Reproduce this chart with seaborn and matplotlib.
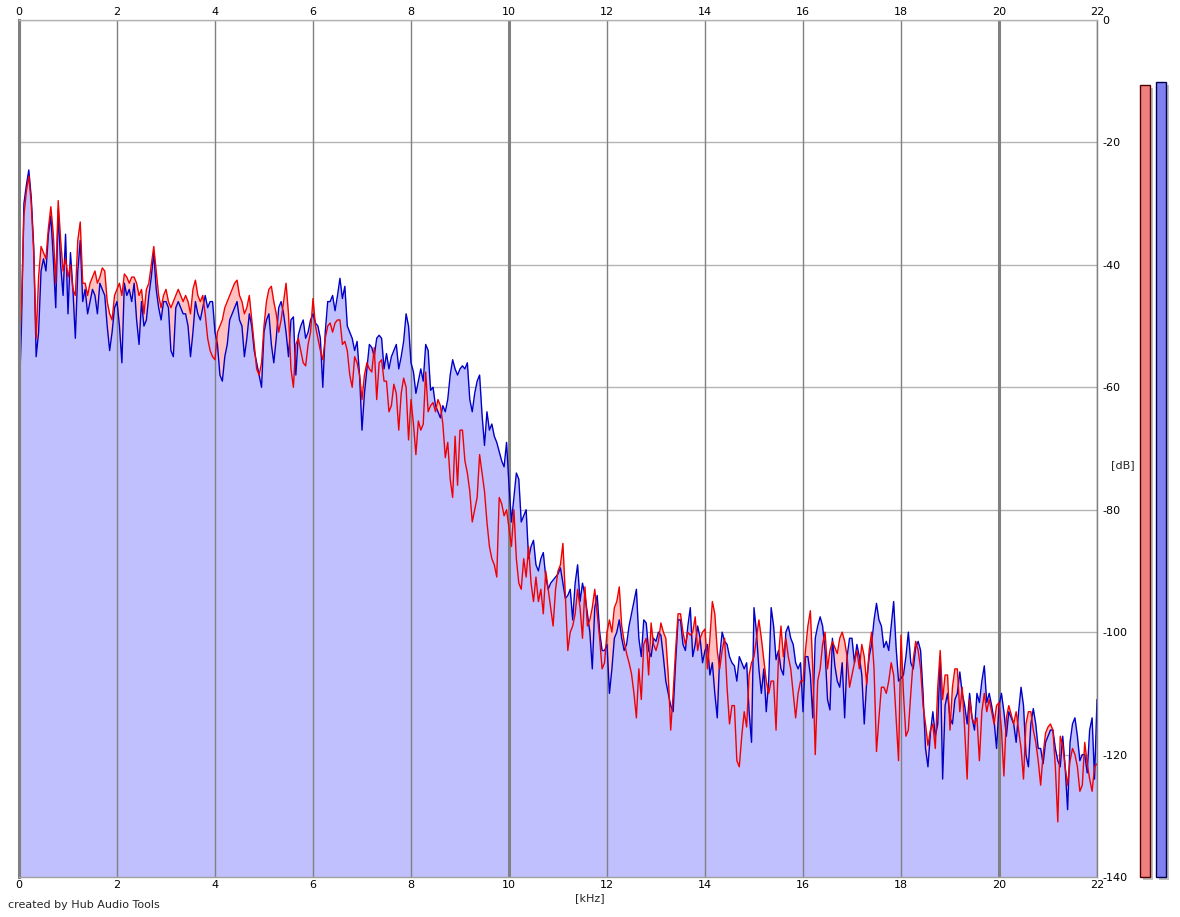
import numpy as np
import pandas as pd
import matplotlib
matplotlib.use("Agg")
import matplotlib.pyplot as plt
import seaborn as sns

# ---------------- data ----------------
freq_step_khz = 0.05

# right channel (blue), dB, 0.00 .. 22.00 kHz in 0.05 kHz steps
blue_0_55 = [
    -63, -50, -30, -27, -24.5, -29, -37, -55, -51, -41,
    -39, -41, -35, -32, -39, -47, -31, -40, -45, -35,
    -48, -38, -44, -52, -41, -36, -46, -44, -48, -46,
    -44, -45, -48, -43, -44, -45, -50, -54, -51, -47,
    -46, -50, -56, -43, -45, -44, -46, -43, -49, -53,
    -46, -50, -49, -45, -42, -38, -44, -47, -49, -46,
    -46, -47, -54, -55, -47, -46, -47, -48, -48, -50,
    -55, -51, -46, -48, -49, -47, -45, -47, -46, -46,
    -51, -53, -58, -59, -55, -53, -49, -48, -47, -46,
    -49, -50, -55, -52, -48, -50, -54, -56, -58, -60,
    -51, -49, -48, -53, -56, -52, -47, -46, -48, -51,
    -55,
]
blue_55_110 = [
    -49, -48.5, -58, -51.5, -50, -49, -52, -51, -49, -48,
    -49.5, -50, -52, -60, -51, -46, -46, -45, -47.5, -45,
    -42.2, -45.5, -43.5, -50, -51, -52, -54, -52.5, -58, -67,
    -61, -57, -53, -53.5, -55, -52, -51.5, -52, -57, -54.5,
    -57, -55, -54, -53, -57, -55, -52.5, -48, -50, -56,
    -57.5, -61, -59, -57, -59, -53, -54, -60.5, -60, -63,
    -64, -65, -63, -64, -62, -58, -55.5, -57, -58, -57,
    -56.5, -57, -56, -62, -64, -61, -59, -58, -64.5, -69.5,
    -64, -67, -66, -68, -69, -70.5, -72, -73, -69, -76,
    -82, -78, -74, -75, -82, -81, -80, -88, -86, -85,
    -89, -90, -88, -87, -91, -93, -92, -91.5, -91, -90.5,
]
blue_110_165 = [
    -89.5, -92, -94.5, -94, -93, -98, -92, -89, -95, -92,
    -94, -97, -100, -106, -96, -94, -100, -103, -103, -102,
    -110, -106, -101, -100, -98, -101, -103, -102, -99, -97,
    -95, -93, -101, -104, -98, -98.5, -103, -104, -101, -101.5,
    -100, -100.5, -104, -108, -110, -112, -113, -105, -98, -98,
    -102, -103, -99, -96, -104, -102, -99, -101, -105, -103,
    -102, -107, -105, -110, -114, -104, -100, -101.5, -102, -104,
    -105, -105.5, -108, -104, -105, -106, -105, -113, -118, -96,
    -100, -106, -110, -106, -113, -108, -96, -99, -104.5, -103,
    -106, -107, -100, -99, -101, -102, -105, -106, -105, -113,
    -104, -104, -107, -114, -101, -99, -97.5, -99, -103, -111,
]
blue_165_220 = [
    -112.7, -101, -105.5, -108, -109, -105, -114, -104, -101, -101,
    -105, -102, -104, -107, -115, -108, -104, -102, -98, -95.3,
    -98, -99, -102.5, -101.5, -103, -99, -95, -102.5, -108, -107.5,
    -107, -104, -100, -105, -106, -102.5, -101.5, -103, -110, -119,
    -122, -116.5, -113, -117, -115, -104, -124, -112, -110, -114,
    -115, -111, -110, -106.5, -110, -112, -115, -110, -114, -116,
    -110, -111.5, -108, -105.5, -111.5, -110, -112, -114.5, -119, -112,
    -110, -113, -117, -113, -114, -115, -118, -113, -109, -112,
    -120, -122, -115, -112.5, -115, -119, -119, -121.5, -118, -117,
    -116, -116, -119, -121, -122, -117, -122, -129, -118, -115,
    -114, -117, -121, -120, -120, -123, -116, -114, -124, -111,
]

# left channel (red), dB
red_0_55 = [
    -55, -47, -32, -28, -25.5, -30, -38, -52, -42, -37,
    -38, -39, -34, -30.5, -35, -43, -29.5, -36, -41, -39,
    -42, -40, -44, -45, -36, -33, -43, -43, -45, -43,
    -42, -41, -43, -42, -40.5, -41, -46, -48, -49, -45,
    -44, -43, -45, -41.5, -42, -43, -42, -42, -43, -45,
    -44, -48, -44, -43, -40, -37, -41, -45, -47, -45,
    -44, -46, -47, -46, -45, -44, -45, -46, -45, -46,
    -48, -44, -42.5, -45, -46, -45, -48, -52, -54, -55,
    -55.5, -51, -50, -49, -47, -46, -45, -44, -43, -42.5,
    -45, -46, -48, -47, -45, -49, -53, -57, -58, -56,
    -50, -46, -44, -43.5, -46, -48, -51, -49, -46, -43,
    -48,
]
red_55_110 = [
    -57, -60, -53, -52, -54, -56, -56.5, -53, -51, -45.5,
    -50, -52, -54, -55.5, -52, -50, -49.5, -51, -49.5, -49,
    -49, -53, -52.5, -54, -58, -60, -55, -56, -58, -62,
    -58, -56, -57, -57.5, -53.5, -62, -56, -55.5, -59, -59,
    -64, -63, -59.5, -61, -67, -61, -58.5, -60, -68.6, -62,
    -66, -71, -65.5, -67, -66, -57.5, -64, -63, -62.5, -64,
    -62, -63, -66, -71.5, -69, -75, -78, -68, -76, -67,
    -67, -72, -74, -77, -82, -80, -78, -71, -74, -77,
    -82, -86, -88, -89, -91, -78, -79, -81, -80, -83,
    -86, -80, -88, -92, -93, -88, -91, -86, -92, -95,
    -91, -95, -93, -97, -90, -93, -96, -99, -93, -90,
]
red_110_165 = [
    -89, -85.5, -94, -103, -100, -99, -97, -93, -96, -101,
    -92.6, -99, -98, -96, -93, -97, -101, -106, -105, -100,
    -98, -100, -96, -95, -92.6, -99, -101.5, -103.5, -105, -106.8,
    -110, -114, -106, -111, -102, -101, -107, -98.5, -102, -103,
    -101.5, -98.5, -100, -101, -107, -116, -110, -103, -97, -97,
    -100, -102, -100, -100.5, -100, -97.5, -103, -101, -100, -99.5,
    -106, -101, -95, -97, -103, -106, -103, -101, -109, -115,
    -112, -112, -121, -122, -117, -113, -115.5, -107, -105, -104,
    -101, -98, -101, -104.5, -108, -110, -108, -108, -116, -104,
    -99, -104, -101, -104, -106, -110, -114, -110, -108, -108,
    -103, -99, -96.5, -106, -120, -108, -106, -102, -100, -106,
]
red_165_220 = [
    -103, -101.5, -102.5, -103.5, -101, -100, -101.5, -104, -109, -107,
    -105, -103, -106, -102, -104, -108.5, -103, -100, -106, -119.5,
    -114, -109, -109, -110, -108, -105, -107, -114, -121, -100.5,
    -110, -117, -116, -110, -104.5, -101.5, -103, -106, -112, -115,
    -118.5, -116, -115, -119, -109, -103, -111, -107, -107, -116,
    -109, -106, -106, -113, -109, -116, -124, -111, -114, -115,
    -114, -121, -113, -110, -113, -111, -113, -115, -112, -111.5,
    -116, -123.5, -114, -112, -113.5, -115, -113, -116, -119, -124,
    -115, -113, -113, -116, -118, -121, -125, -120, -116.5, -115.5,
    -115, -116, -122, -131, -117, -118.5, -122, -125, -121, -119,
    -120, -122, -126, -125, -118, -121.5, -124, -126, -122, -121.5,
]

blue_db = blue_0_55 + blue_55_110 + blue_110_165 + blue_165_220
red_db = red_0_55 + red_55_110 + red_110_165 + red_165_220
freq_khz = np.round(np.arange(len(blue_db)) * freq_step_khz, 2)

x_ticks = list(range(0, 23, 2))
y_ticks = list(range(0, -141, -20))
level_labels = ["L", "R"]
level_db = [-10.6, -10.1]

df = pd.DataFrame({"kHz": freq_khz, "left": red_db, "right": blue_db})

# ---------------- styling ----------------
sns.set_theme(style="white")
plt.rcParams["font.family"] = ["DejaVu Sans"]
plt.rcParams["axes.unicode_minus"] = False

W, H = 1180, 917
fig = plt.figure(figsize=(W / 100, H / 100), dpi=100)
fig.patch.set_facecolor("white")

L, R, T, B = 19, 1097, 20, 877
ax = fig.add_axes([L / W, 1 - B / H, (R - L) / W, (B - T) / H])
ax.set_facecolor("white")
ax.set_xlim(0, 22)
ax.set_ylim(-140, 0)

# fills
ax.fill_between(df["kHz"], df["left"], -140, color="#ffc0c0", lw=0, zorder=1)
ax.fill_between(df["kHz"], df["right"], -140, color="#c0c0ff", lw=0, zorder=2)

# grid
for yv in y_ticks:
    ax.axhline(yv, color="#b4b4b4", lw=1, zorder=0.5)
for xv in x_ticks:
    ax.axvline(xv, color="#808080", lw=2.2 if xv % 10 == 0 else 1.0, zorder=3)

# lines
sns.lineplot(data=df, x="kHz", y="right", color="#0000c8", lw=1.0,
             estimator=None, ax=ax, zorder=4)
sns.lineplot(data=df, x="kHz", y="left", color="#f00000", lw=1.0,
             estimator=None, ax=ax, zorder=5)
ax.set_xlabel("")
ax.set_ylabel("")

# ticks
ax.set_xticks(x_ticks)
ax.set_xticklabels([str(v) for v in x_ticks])
ax.tick_params(axis="x", top=True, labeltop=True, bottom=True, labelbottom=True,
               length=0, pad=2, labelsize=8, labelcolor="black")
ax.set_yticks(y_ticks)
ax.set_yticklabels([str(v) for v in y_ticks])
ax.yaxis.tick_right()
ax.tick_params(axis="y", length=0, pad=4, labelsize=8, labelcolor="black")

for side, sp in ax.spines.items():
    sp.set_visible(True)
    sp.set_zorder(6)
ax.spines["left"].set_color("#808080")
ax.spines["left"].set_linewidth(2.2)
ax.spines["top"].set_color("#b4b4b4")
ax.spines["top"].set_linewidth(1)
ax.spines["right"].set_color("#808080")
ax.spines["right"].set_linewidth(1)
ax.spines["bottom"].set_color("#a0a0a0")
ax.spines["bottom"].set_linewidth(1)

# texts
fig.text(590 / W, 1 - 898 / H, "[kHz]", ha="center", va="center", fontsize=8)
fig.text(1123 / W, 1 - 465 / H, "[dB]", ha="center", va="center", fontsize=8)
fig.text(8 / W, 1 - 905 / H, "created by Hub Audio Tools", ha="left",
         va="center", fontsize=8)

# level meters
mx0 = 1136.5
ax2 = fig.add_axes([mx0 / W, 1 - B / H, 32 / W, (B - T) / H])
ax2.set_xlim(-0.5, 1.5)
ax2.set_ylim(-140, 0)
ax2.axis("off")
meter_colors = ["#f08080", "#8080f0"]
meter_edges = ["#500000", "#000050"]
px_x = 1 / 16.0
px_y = 140 / (B - T)
for i, (lab, lv) in enumerate(zip(level_labels, level_db)):
    ax2.bar(i + 3 * px_x, lv + 140, bottom=-140 - 3 * px_y, width=0.625,
            color="#c0c0c0", lw=0, clip_on=False, zorder=1)
    ax2.bar(i, lv + 140, bottom=-140, width=0.625, color=meter_colors[i],
            edgecolor=meter_edges[i], lw=1, clip_on=False, zorder=2)

fig.savefig("out.png", dpi=100, facecolor="white")
